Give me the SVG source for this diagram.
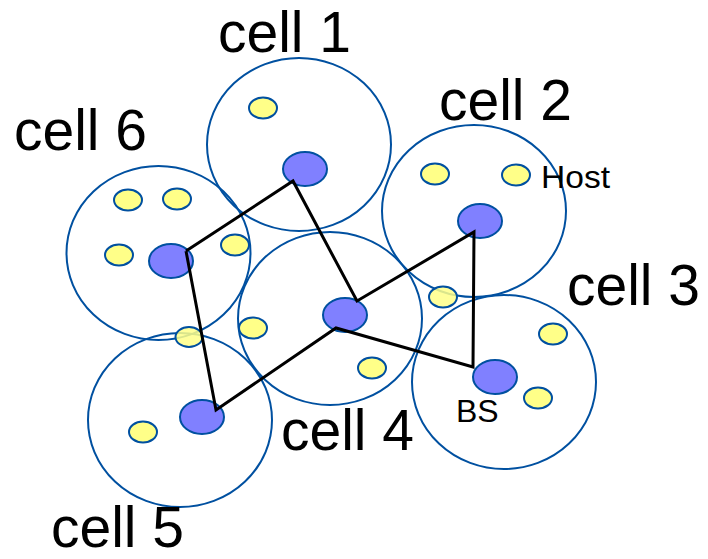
<svg xmlns="http://www.w3.org/2000/svg" width="708" height="559" viewBox="0 0 708 559">
<defs>
<style>
.cell{fill:none;stroke:#0050A0;stroke-width:2}
.host{fill:#FFFF88;stroke:#0050A0;stroke-width:2}
.bs{fill:#8080FF;stroke:#0050A0;stroke-width:2}
.lbl{font-family:"Liberation Sans",Arial,sans-serif;font-size:57px;fill:#000}
.sm{font-family:"Liberation Sans",Arial,sans-serif;font-size:32px;fill:#000}
.link{fill:none;stroke:#000;stroke-width:3;stroke-linejoin:miter}
</style>
</defs>
<rect width="708" height="559" fill="#fff"/>
<g id="cell1">
<ellipse class="cell" cx="299" cy="144.5" rx="92" ry="86.5"/>
<ellipse class="host" cx="263" cy="108" rx="14" ry="10.5"/>
<ellipse class="bs" cx="305" cy="169" rx="22" ry="17"/>
<text class="lbl" x="218" y="52">cell 1</text>
</g>
<g id="cell2">
<ellipse class="cell" cx="474" cy="211" rx="92" ry="86"/>
<ellipse class="host" cx="435" cy="174" rx="14" ry="10.5"/>
<ellipse class="host" cx="516" cy="175" rx="14" ry="10.5"/>
<ellipse class="bs" cx="480" cy="221" rx="22" ry="17"/>
<text class="lbl" x="439" y="120">cell 2</text>
<text class="sm" x="541" y="188" textLength="69" lengthAdjust="spacingAndGlyphs">Host</text>
</g>
<g id="cell6">
<ellipse class="cell" cx="158.5" cy="253" rx="92" ry="87"/>
<ellipse class="host" cx="128" cy="200" rx="14" ry="10.5"/>
<ellipse class="host" cx="177" cy="199" rx="14" ry="10.5"/>
<ellipse class="host" cx="119" cy="255" rx="14" ry="10.5"/>
<ellipse class="host" cx="235" cy="245" rx="14" ry="10.5"/>
<ellipse class="bs" cx="171" cy="261" rx="22" ry="17"/>
<text class="lbl" x="14" y="150">cell 6</text>
</g>
<g id="cell4">
<ellipse class="cell" cx="330" cy="318.5" rx="92" ry="86.5"/>
<ellipse class="host" cx="253" cy="328" rx="14" ry="10.5"/>
<ellipse class="host" cx="372" cy="368" rx="14" ry="10.5"/>
<ellipse class="bs" cx="345" cy="315" rx="22" ry="17"/>
<text class="lbl" x="281" y="450">cell 4</text>
</g>
<g id="cell3">
<ellipse class="cell" cx="504" cy="382" rx="92" ry="87"/>
<ellipse class="host" cx="553" cy="334" rx="14" ry="10.5"/>
<ellipse class="host" cx="538" cy="398" rx="14" ry="10.5"/>
<ellipse class="bs" cx="495" cy="377" rx="22" ry="17"/>
<text class="lbl" x="567" y="305">cell 3</text>
<text class="sm" x="456" y="422">BS</text>
</g>
<g id="cell5">
<ellipse class="cell" cx="180" cy="420" rx="92" ry="87"/>
<ellipse class="host" cx="143" cy="432" rx="14" ry="10.5"/>
<ellipse class="bs" cx="202" cy="417" rx="22" ry="17"/>
<text class="lbl" x="51" y="547">cell 5</text>
</g>
<g id="shared-hosts">
<ellipse class="host" cx="189" cy="337" rx="13.5" ry="10" fill-opacity="0.85"/>
<ellipse class="host" cx="443" cy="297" rx="14" ry="10.5" fill-opacity="0.85"/>
</g>
<g id="connectors">
<polyline class="link" points="186,251 293,181 357,301 474,232 473,367 336,328 216,410 186,251"/>
</g>
</svg>
